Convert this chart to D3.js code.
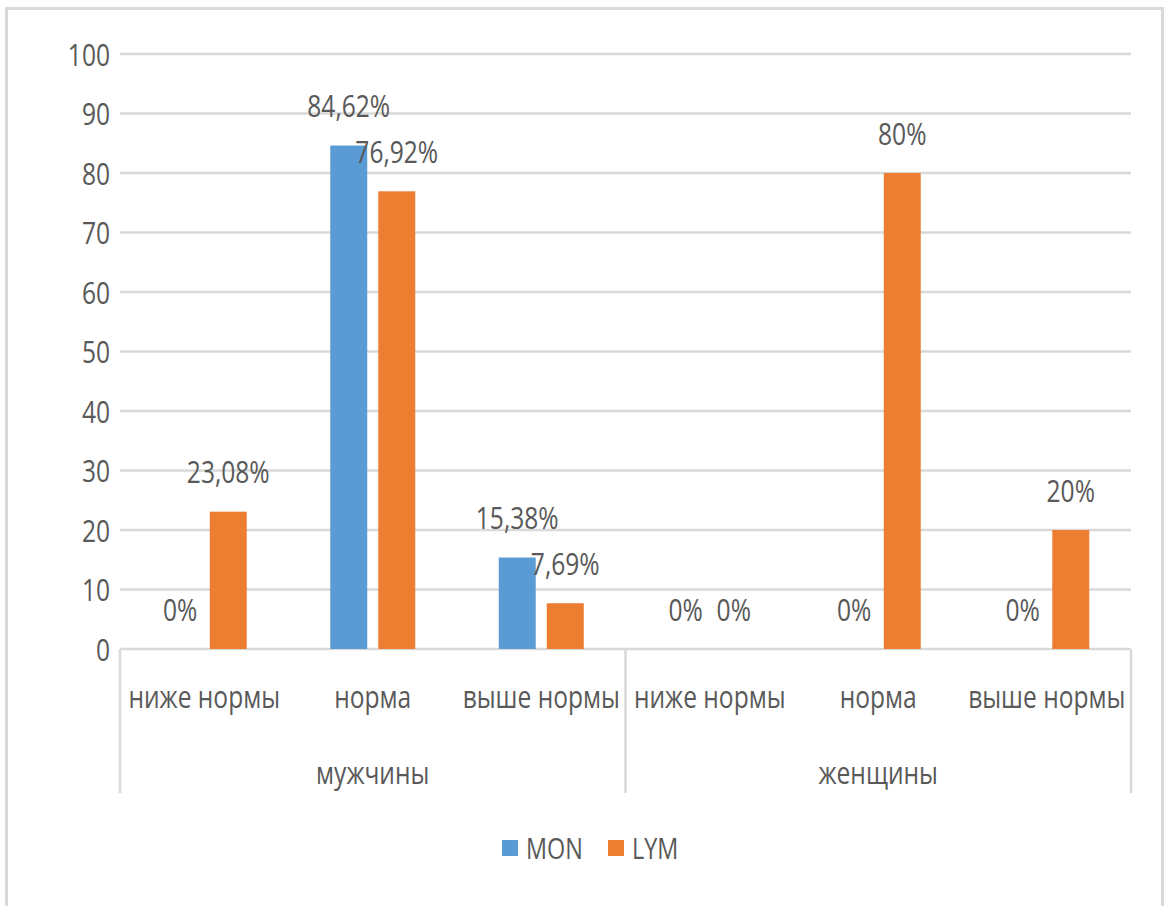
<!DOCTYPE html>
<html>
<head>
<meta charset="utf-8">
<script src="https://cdn.jsdelivr.net/npm/d3@7"></script>
<style>
  html, body { margin: 0; padding: 0; background: #ffffff; }
  svg { display: block; }
  text { font-family: "Open Sans", "Noto Sans", sans-serif; fill: #595959; }
</style>
</head>
<body>
<svg id="chart" width="1165" height="906"></svg>
<script>
// Subcategories (first axis level) and groups (second axis level)
const levels = ["ниже нормы", "норма", "выше нормы"];
const groups = ["мужчины", "женщины"];
const seriesNames = ["MON", "LYM"];
const seriesColors = ["#5b9bd5", "#ed7d31"];
// Percent values per series, in order: мужчины (3 levels), женщины (3 levels)
const monValues = [0, 84.62, 15.38, 0, 0, 0];
const lymValues = [23.08, 76.92, 7.69, 0, 80, 20];
const yTicks = [0, 10, 20, 30, 40, 50, 60, 70, 80, 90, 100];

const svg = d3.select("#chart");
const SX = 0.78;          // horizontal compression of the lettering
const FS = 31.5;          // font size of all texts

const plotLeft = 120, plotRight = 1131, plotTop = 54, plotBottom = 649;

const rows = [];
groups.forEach((g, gi) => levels.forEach((l, li) => {
  const i = gi * levels.length + li;
  rows.push({ key: i, group: g, level: l, MON: monValues[i], LYM: lymValues[i] });
}));

const x0 = d3.scaleBand().domain(rows.map(d => d.key)).range([plotLeft, plotRight]).padding(0);
const bw = x0.bandwidth();
const x1 = d3.scaleBand().domain(seriesNames)
  .range([bw / 2 - 42.5, bw / 2 + 42.5]).paddingInner(0.23).paddingOuter(0);
const y = d3.scaleLinear().domain([0, 100]).range([plotBottom, plotTop]);
const color = d3.scaleOrdinal().domain(seriesNames).range(seriesColors);

function label(sel, x, yy, txt, anchor, size) {
  return sel.append("text")
    .attr("transform", `translate(${x},${yy}) scale(${SX},1)`)
    .attr("text-anchor", anchor || "middle")
    .style("font-size", (size || FS) + "px")
    .text(txt);
}

// chart frame
svg.append("rect")
  .attr("x", 6.5).attr("y", 8.5).attr("width", 1156).attr("height", 940)
  .attr("fill", "none").attr("stroke", "#d9d9d9").attr("stroke-width", 3);

// gridlines
svg.append("g").selectAll("line").data(yTicks.filter(t => t > 0)).join("line")
  .attr("x1", plotLeft).attr("x2", plotRight)
  .attr("y1", d => y(d)).attr("y2", d => y(d))
  .attr("stroke", "#d9d9d9").attr("stroke-width", 2.5);

// y tick labels
const yl = svg.append("g");
yTicks.forEach(t => label(yl, 110, y(t) + 11.5, String(t), "end"));

// category axis: baseline and group separators
const axis = svg.append("g").attr("stroke", "#d9d9d9").attr("stroke-width", 2.5);
axis.append("line").attr("x1", plotLeft).attr("x2", plotRight)
  .attr("y1", plotBottom).attr("y2", plotBottom);
const sepX = [x0(0), x0(3), x0(5) + bw];
sepX.forEach(sx => axis.append("line")
  .attr("x1", sx).attr("x2", sx).attr("y1", plotBottom).attr("y2", 793));

// bars
const fmt = v => (Number.isInteger(v) ? String(v) : v.toFixed(2).replace(".", ",")) + "%";
const cluster = svg.append("g").selectAll("g").data(rows).join("g")
  .attr("transform", d => `translate(${x0(d.key)},0)`);
cluster.selectAll("rect").data(d => seriesNames.map(s => ({ s, v: d[s] }))).join("rect")
  .attr("x", d => x1(d.s)).attr("width", x1.bandwidth())
  .attr("y", d => y(d.v)).attr("height", d => y(0) - y(d.v))
  .attr("fill", d => color(d.s));

// data labels
cluster.each(function (d) {
  const g = d3.select(this);
  seriesNames.forEach(s => {
    label(g, x1(s) + x1.bandwidth() / 2, y(d[s]) - 28.5, fmt(d[s]));
  });
});

// first-level category labels
const cl = svg.append("g");
rows.forEach(d => label(cl, x0(d.key) + bw / 2, 708, d.level));

// group labels
groups.forEach((g, gi) => {
  const cx = (x0(gi * 3) + x0(gi * 3 + 2) + bw) / 2;
  label(cl, cx, 784, g);
});

// legend
const legend = svg.append("g");
const legendItems = [{ name: "MON", sx: 502, tx: 526 }, { name: "LYM", sx: 608, tx: 632 }];
legendItems.forEach(it => {
  legend.append("rect").attr("x", it.sx).attr("y", 840).attr("width", 16).attr("height", 16)
    .attr("fill", color(it.name));
  label(legend, it.tx, 859, it.name, "start", 30);
});
</script>
</body>
</html>
